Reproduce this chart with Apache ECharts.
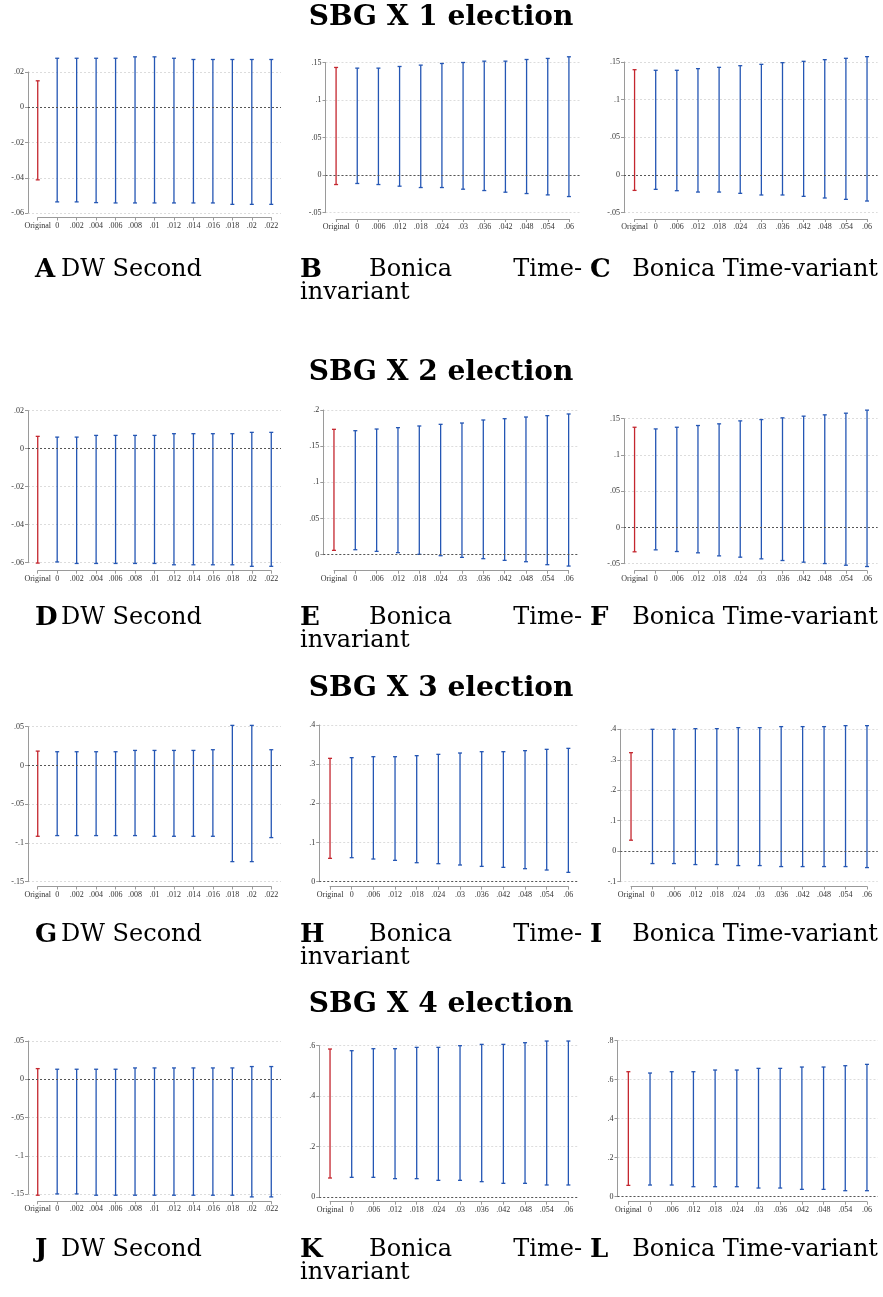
<!DOCTYPE html>
<html>
<head>
<meta charset="utf-8">
<script src="https://cdn.jsdelivr.net/npm/echarts@6/dist/echarts.min.js"></script>
<style>
  html, body { margin: 0; padding: 0; background: #fff; }
  #main { width: 883px; height: 1297px; }
</style>
</head>
<body>
<div id="main"></div>
<script>
// categories
var dwCats = ['Original', '0', '.002', '.004', '.006', '.008', '.01', '.012', '.014', '.016', '.018', '.02', '.022'];
var bonCats = ['Original', '0', '.006', '.012', '.018', '.024', '.03', '.036', '.042', '.048', '.054', '.06'];

// SBG X 1 election
var aHi = [0.015, 0.0278, 0.0278, 0.0278, 0.0278, 0.0286, 0.0286, 0.0278, 0.0271, 0.0271, 0.0271, 0.0271, 0.0271];
var aLo = [-0.0412, -0.0537, -0.0537, -0.0541, -0.0543, -0.0543, -0.0543, -0.0543, -0.0543, -0.0543, -0.0551, -0.0551, -0.0551];
var bHi = [0.1434, 0.1425, 0.1425, 0.1447, 0.1465, 0.1487, 0.150, 0.1518, 0.1518, 0.154, 0.1554, 0.1576];
var bLo = [-0.0125, -0.0111, -0.0125, -0.0147, -0.0165, -0.0165, -0.0187, -0.0205, -0.0227, -0.0245, -0.0263, -0.0285];
var cHi = [0.1398, 0.139, 0.139, 0.1412, 0.1429, 0.1451, 0.1469, 0.1491, 0.1509, 0.1531, 0.1549, 0.1571];
var cLo = [-0.0204, -0.019, -0.0208, -0.0226, -0.0226, -0.0243, -0.0265, -0.0265, -0.0283, -0.0305, -0.0323, -0.0345];

// SBG X 2 election
var dHi = [0.0065, 0.0061, 0.0061, 0.007, 0.007, 0.007, 0.007, 0.0079, 0.0079, 0.0079, 0.0079, 0.0086, 0.0086];
var dLo = [-0.0602, -0.0596, -0.0604, -0.0604, -0.0604, -0.0604, -0.0604, -0.0611, -0.0611, -0.0611, -0.0611, -0.0619, -0.0619];
var eHi = [0.1733, 0.1714, 0.1737, 0.1756, 0.1779, 0.1802, 0.182, 0.1862, 0.188, 0.1903, 0.1922, 0.1945];
var eLo = [0.006, 0.0069, 0.0046, 0.0028, 0.0005, -0.0014, -0.0037, -0.0055, -0.0078, -0.0097, -0.0138, -0.0157];
var fHi = [0.1382, 0.1359, 0.1382, 0.1406, 0.1429, 0.147, 0.1488, 0.1512, 0.1535, 0.1553, 0.1576, 0.1618];
var fLo = [-0.0336, -0.0309, -0.0332, -0.035, -0.0392, -0.041, -0.0433, -0.0456, -0.0479, -0.0498, -0.0521, -0.0539];

// SBG X 3 election
var gHi = [0.0185, 0.0177, 0.0177, 0.0177, 0.0177, 0.0194, 0.0194, 0.0194, 0.0194, 0.0203, 0.0517, 0.0517, 0.0203];
var gLo = [-0.0914, -0.0905, -0.0905, -0.0905, -0.0905, -0.0905, -0.0914, -0.0914, -0.0914, -0.0914, -0.1241, -0.1241, -0.0931];
var hHi = [0.3149, 0.3166, 0.3191, 0.3191, 0.3217, 0.3251, 0.3285, 0.3319, 0.3319, 0.3345, 0.3379, 0.3404];
var hLo = [0.0596, 0.0613, 0.0579, 0.0545, 0.0485, 0.046, 0.0426, 0.0391, 0.0366, 0.0332, 0.0298, 0.0238];
var iHi = [0.3233, 0.40, 0.40, 0.4022, 0.4022, 0.4055, 0.4055, 0.4088, 0.4088, 0.4088, 0.412, 0.412];
var iLo = [0.0362, -0.0405, -0.0405, -0.0438, -0.0438, -0.0471, -0.0471, -0.0504, -0.0504, -0.0504, -0.0504, -0.0537];

// SBG X 4 election
var jHi = [0.0139, 0.0131, 0.0131, 0.0131, 0.0131, 0.0148, 0.0148, 0.0148, 0.0148, 0.0148, 0.0148, 0.0166, 0.0166];
var jLo = [-0.1516, -0.1499, -0.1499, -0.1516, -0.1516, -0.1516, -0.1516, -0.1516, -0.1516, -0.1516, -0.1516, -0.1538, -0.1538];
var kHi = [0.5868, 0.5802, 0.5881, 0.5881, 0.5934, 0.5934, 0.600, 0.6053, 0.6053, 0.6119, 0.6185, 0.6185];
var kLo = [0.0753, 0.078, 0.078, 0.0727, 0.0727, 0.0661, 0.0661, 0.0608, 0.0542, 0.0542, 0.0476, 0.0476];
var lHi = [0.641, 0.6342, 0.641, 0.641, 0.6496, 0.6496, 0.6581, 0.6581, 0.665, 0.665, 0.6718, 0.6786];
var lLo = [0.0581, 0.0598, 0.0598, 0.0513, 0.0513, 0.0513, 0.0444, 0.0444, 0.0376, 0.0376, 0.0308, 0.0308];

// y tick labels
var ticksDw12 = [-0.06, -0.04, -0.02, 0, 0.02];
var ticksBon1 = [-0.05, 0, 0.05, 0.1, 0.15];
var ticksE = [0, 0.05, 0.1, 0.15, 0.2];
var ticksDw3 = [-0.15, -0.1, -0.05, 0, 0.05];
var ticksH = [0, 0.1, 0.2, 0.3, 0.4];
var ticksI = [-0.1, 0, 0.1, 0.2, 0.3, 0.4];
var ticksK = [0, 0.2, 0.4, 0.6];
var ticksL = [0, 0.2, 0.4, 0.6, 0.8];

var titles = ['SBG X 1 election', 'SBG X 2 election', 'SBG X 3 election', 'SBG X 4 election'];

var RED = '#c4262e';
var BLUE = '#2456b4';
var AXIS = '#9a9a9a';

// box: left, top, width, height of the plot (top = highest tick, bottom = lowest tick); ax = y of x axis line
var panels = [
  { cats: dwCats, lo: aLo, hi: aHi, ticks: ticksDw12, box: [28, 72, 253, 141], ax: 217.5 },
  { cats: bonCats, lo: bLo, hi: bHi, ticks: ticksBon1, box: [325.5, 62.5, 254, 150.2], ax: 219 },
  { cats: bonCats, lo: cLo, hi: cHi, ticks: ticksBon1, box: [624, 62, 253.6, 150.7], ax: 219 },
  { cats: dwCats, lo: dLo, hi: dHi, ticks: ticksDw12, box: [28, 410.7, 253, 152], ax: 570.7 },
  { cats: bonCats, lo: eLo, hi: eHi, ticks: ticksE, box: [323.3, 410, 256, 144.7], ax: 570.7 },
  { cats: bonCats, lo: fLo, hi: fHi, ticks: ticksBon1, box: [624, 418.7, 253.6, 145], ax: 570.7 },
  { cats: dwCats, lo: gLo, hi: gHi, ticks: ticksDw3, box: [28, 726.7, 253, 155], ax: 886.5 },
  { cats: bonCats, lo: hLo, hi: hHi, ticks: ticksH, box: [319.2, 725, 260, 156.7], ax: 886.7 },
  { cats: bonCats, lo: iLo, hi: iHi, ticks: ticksI, box: [620.3, 729.3, 257.4, 152.4], ax: 886.5 },
  { cats: dwCats, lo: jLo, hi: jHi, ticks: ticksDw3, box: [28, 1041, 253, 153], ax: 1201.3 },
  { cats: bonCats, lo: kLo, hi: kHi, ticks: ticksK, box: [319.2, 1045.7, 260, 151.3], ax: 1201.7 },
  { cats: bonCats, lo: lLo, hi: lHi, ticks: ticksL, box: [617.5, 1040.7, 260.3, 156], ax: 1201.7 }
];

function stataLabel(v) {
  var s = String(+(+v).toFixed(4));
  return s.replace(/^(-?)0\./, '$1.');
}

function renderBar(params, api) {
  var x = api.value(0);
  var p1 = api.coord([x, api.value(1)]);
  var p2 = api.coord([x, api.value(2)]);
  var color = params.dataIndex === 0 ? RED : BLUE;
  var st = { stroke: color, lineWidth: 1.3 };
  var cw = 2;
  return {
    type: 'group',
    children: [
      { type: 'line', shape: { x1: p1[0], y1: p1[1], x2: p2[0], y2: p2[1] }, style: st },
      { type: 'line', shape: { x1: p1[0] - cw, y1: p1[1], x2: p1[0] + cw, y2: p1[1] }, style: st },
      { type: 'line', shape: { x1: p2[0] - cw, y1: p2[1], x2: p2[0] + cw, y2: p2[1] }, style: st }
    ]
  };
}

var labelFont = { fontFamily: 'Liberation Serif', fontSize: 8, color: '#333' };

var grid = [], xAxis = [], yAxis = [], series = [];
panels.forEach(function (p, i) {
  var b = p.box;
  var band = b[2] / p.cats.length;
  var t = p.ticks;
  // plot grid
  grid.push({ left: b[0], top: b[1], width: b[2], height: b[3] });
  xAxis.push({ gridIndex: 2 * i, type: 'category', data: p.cats, boundaryGap: true, show: false });
  yAxis.push({
    gridIndex: 2 * i, type: 'value', min: t[0], max: t[t.length - 1], interval: +(t[1] - t[0]).toFixed(4),
    axisLine: { show: true, lineStyle: { color: AXIS, width: 1 } },
    axisTick: { show: true, length: 3, lineStyle: { color: AXIS } },
    axisLabel: Object.assign({ margin: 4, formatter: stataLabel }, labelFont),
    splitLine: { show: true, lineStyle: { color: '#dcdcdc', type: [2, 2], width: 1 } }
  });
  // x axis grid: from first to last category tick, slightly below the plot
  grid.push({ left: b[0] + band / 2, top: p.ax - 1, width: b[2] - band, height: 1 });
  xAxis.push({
    gridIndex: 2 * i + 1, type: 'category', data: p.cats, boundaryGap: false, position: 'bottom',
    axisLine: { show: true, lineStyle: { color: AXIS, width: 1 } },
    axisTick: { show: true, length: 3, interval: 0, lineStyle: { color: AXIS } },
    axisLabel: Object.assign({ margin: 4, interval: 0 }, labelFont),
    splitLine: { show: false }
  });
  yAxis.push({ gridIndex: 2 * i + 1, type: 'value', show: false, min: 0, max: 1 });

  series.push({
    type: 'custom',
    xAxisIndex: 2 * i,
    yAxisIndex: 2 * i,
    clip: false,
    renderItem: renderBar,
    encode: { x: 0, y: [1, 2] },
    data: p.cats.map(function (c, k) { return [k, p.lo[k], p.hi[k]]; }),
    markLine: {
      silent: true, symbol: 'none', label: { show: false },
      lineStyle: { color: '#555', type: [2, 2], width: 1 },
      data: [{ yAxis: 0 }]
    }
  });
});

// titles and captions
var titleY = [18, 373, 689, 1005];
var capY = [270, 618, 935, 1250];
var graphic = [];
var serif = 'DejaVu Serif';
titles.forEach(function (tx, r) {
  graphic.push({ type: 'text', x: 441, y: titleY[r],
    style: { text: tx, font: 'bold 28px "' + serif + '"', fill: '#000',
      textAlign: 'center', textVerticalAlign: 'middle' } });
});
var letters = ['A', 'B', 'C', 'D', 'E', 'F', 'G', 'H', 'I', 'J', 'K', 'L'];
capY.forEach(function (y, r) {
  function txt(x, yy, s, bold, align) {
    graphic.push({ type: 'text', x: x, y: yy,
      style: { text: s, font: (bold ? 'bold 26px ' : '24px ') + '"' + serif + '"', fill: '#000',
        textAlign: align || 'left', textVerticalAlign: 'middle' } });
  }
  txt(35, y, letters[3 * r], true);
  txt(61, y, 'DW Second', false);
  txt(300, y, letters[3 * r + 1], true);
  txt(369, y, 'Bonica', false);
  txt(582, y, 'Time-', false, 'right');
  txt(300, y + 23, 'invariant', false);
  txt(590, y, letters[3 * r + 2], true);
  txt(878, y, 'Bonica Time-variant', false, 'right');
});

var chart = echarts.init(document.getElementById('main'));
chart.setOption({
  animation: false,
  backgroundColor: '#fff',
  grid: grid,
  xAxis: xAxis,
  yAxis: yAxis,
  series: series,
  graphic: graphic
});
</script>
</body>
</html>
